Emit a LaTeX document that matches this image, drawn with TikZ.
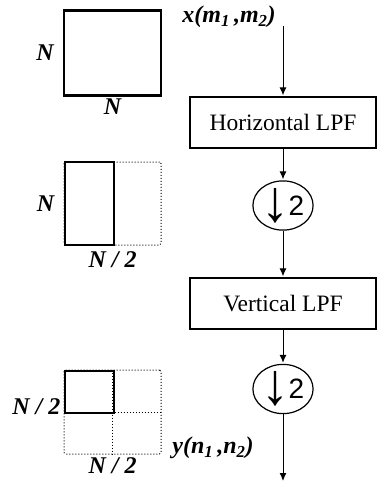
\documentclass[tikz,border=0pt]{standalone}
\usepackage{fontspec}
\usepackage{graphicx}
\setmainfont{Liberation Serif}
\setsansfont{Liberation Sans}
\usetikzlibrary{arrows.meta, positioning, shapes.geometric}

\begin{document}
\begin{tikzpicture}[
  x=1pt, y=-1pt,
  font=\fontsize{23.5}{27}\selectfont,
  filterbox/.style={draw, line width=1.4pt, minimum width=186pt, minimum height=51pt, inner sep=0pt},
  downsamp/.style={draw, ellipse, line width=1.2pt, minimum width=52pt, minimum height=46pt, inner sep=0pt, font=\fontsize{28}{32}\selectfont\sffamily},
  solidblk/.style={draw, line width=2.4pt, inner sep=0pt},
  dotblk/.style={draw, dotted, line width=1pt, inner sep=0pt, rounded corners=1.5pt},
  lbl/.style={font=\fontsize{24}{28}\selectfont\bfseries\itshape, inner sep=1pt},
  arrow/.style={-{Latex[length=8pt, width=7pt]}, line width=1pt, shorten >=1pt}
]
\useasboundingbox (0,0) rectangle (377,482);

% block sizes at each stage
\node[solidblk, minimum width=97pt, minimum height=85pt] (full) at (112.5,53) {};
\node[lbl, left=8pt of full] (fullh) {N};
\node[lbl, below=1pt of full] (fullw) {N};

\node[dotblk, minimum width=97pt, minimum height=83pt] (halfall) at (112.5,203.5) {};
\node[solidblk, minimum width=49pt, minimum height=83pt, anchor=west] (half) at (halfall.west) {};
\node[lbl, left=8pt of half] (halfh) {N};
\node[lbl, below=5pt of halfall] (halfw) {N / 2};

\node[dotblk, minimum width=97pt, minimum height=84pt] (quartall) at (112.5,412) {};
\draw[dotted, line width=1pt] (quartall.north) -- (quartall.south);
\draw[dotted, line width=1pt] (quartall.west) -- (quartall.east);
\node[solidblk, minimum width=49pt, minimum height=42pt, anchor=north west] (quart) at (quartall.north west) {};
\node[lbl, left=2pt of quart.south west, yshift=7pt] (quarth) {N / 2};
\node[lbl, below=2pt of quartall] (quartw) {N / 2};

% filter chain
\coordinate (in) at (283,26);
\node[lbl] (xin) at (229,17) {x(m\textsubscript{1}\,,m\textsubscript{2})};
\node[filterbox] (hlpf) at (283,122.5) {Horizontal LPF};
\node[downsamp] (dsA) at (283,205.5) {\raisebox{-6pt}{\scalebox{2.0}[2.1]{↓}}\kern-1pt2};
\node[filterbox] (vlpf) at (283,303.5) {Vertical LPF};
\node[downsamp] (dsB) at (283,389) {\raisebox{-6pt}{\scalebox{2.0}[2.1]{↓}}\kern-1pt2};
\coordinate (out) at (283,482);
\node[lbl] (yout) at (213,448) {y(n\textsubscript{1}\,,n\textsubscript{2})};

\draw[arrow] (in) -- (hlpf);
\draw[arrow] (hlpf) -- (dsA);
\draw[arrow] (dsA) -- (vlpf);
\draw[arrow] (vlpf) -- (dsB);
\draw[arrow] (dsB) -- (out);
\end{tikzpicture}
\end{document}
